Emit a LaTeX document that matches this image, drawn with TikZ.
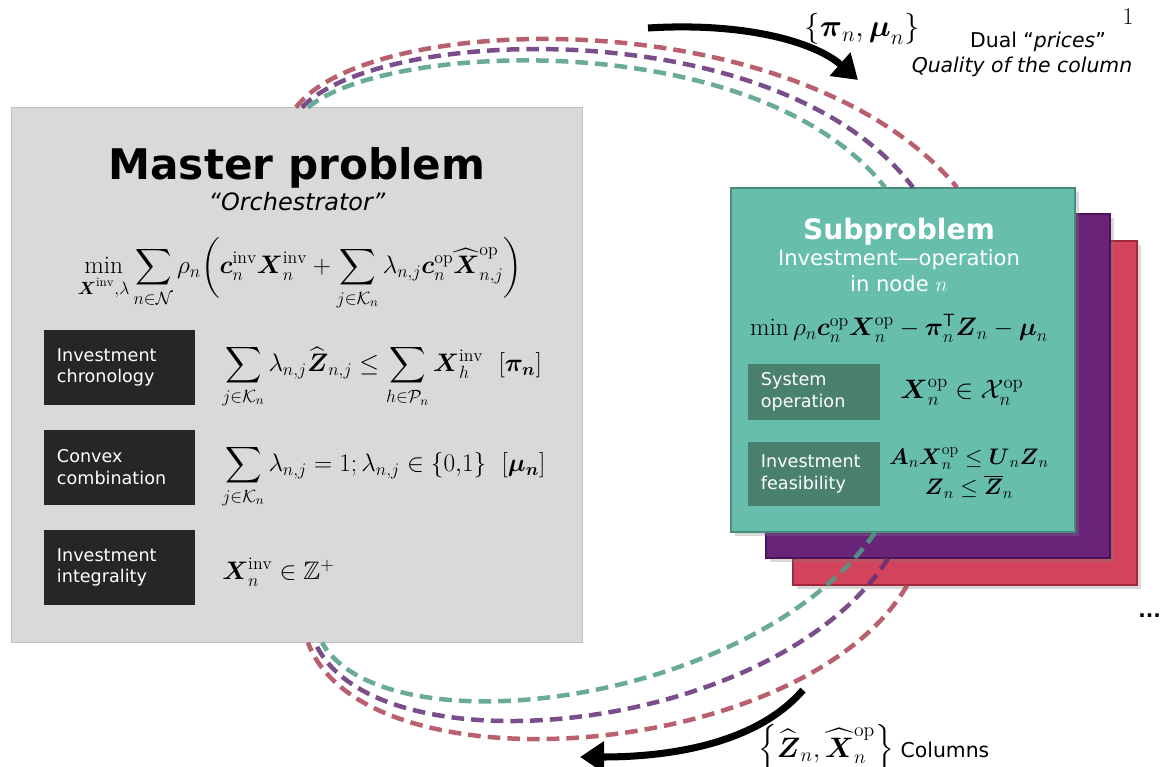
\documentclass[tikz,border=0pt]{standalone}
\usepackage{fix-cm}
\usepackage{amsmath}
\usepackage{amssymb}
\usepackage{fontspec}
\usetikzlibrary{arrows.meta,shadows,calc}

\newfontfamily\verd{DejaVu Sans}

\definecolor{masterfill}{RGB}{217,217,217}
\definecolor{masterdraw}{RGB}{191,191,191}
\definecolor{labelblack}{RGB}{38,38,38}
\definecolor{subteal}{RGB}{103,190,172}
\definecolor{tealdraw}{RGB}{72,140,125}
\definecolor{tealdark}{RGB}{73,128,112}
\definecolor{subpurple}{RGB}{105,36,121}
\definecolor{purpledraw}{RGB}{75,20,90}
\definecolor{subred}{RGB}{211,67,92}
\definecolor{reddraw}{RGB}{160,40,60}
\definecolor{arcred}{RGB}{172,68,84}
\definecolor{arcpurple}{RGB}{99,47,117}
\definecolor{arcgreen}{RGB}{80,155,134}

\begin{document}
\begin{tikzpicture}[x=0.025cm, y=-0.025cm,
  masterbox/.style={draw=masterdraw, fill=masterfill, line width=0.8pt,
    minimum width=14.25cm, minimum height=13.35cm},
  blacklabel/.style={fill=labelblack, text=white, align=left,
    font=\verd\fontsize{12.5}{15.5}\selectfont,
    text width=3.125cm, inner xsep=0.325cm, minimum height=1.875cm},
  subbox/.style={line width=0.8pt, minimum width=8.6cm, minimum height=8.6cm,
    drop shadow={shadow xshift=0.1cm, shadow yshift=-0.1cm, opacity=0.3}},
  sublabel/.style={fill=tealdark, text=white, align=left,
    font=\verd\fontsize{12.5}{15.5}\selectfont,
    text width=2.65cm, inner xsep=0.325cm},
  eq/.style={font=\fontsize{18}{22}\selectfont, inner sep=0pt},
  subeq/.style={font=\fontsize{18}{22}\selectfont, inner sep=0pt},
  sidetext/.style={font=\verd\fontsize{14.5}{17}\selectfont, inner sep=0pt},
  dashedarc/.style={line width=3.2pt, dash pattern=on 9pt off 5pt, opacity=0.85},
  bigarrow/.style={line width=5pt, -{Triangle[length=0.6cm, width=0.75cm]}}
]
  \useasboundingbox (0,0) rectangle (1160,767);

  % the master problem
  \node[masterbox] (master) at (297,375) {};
  \node[font=\verd\bfseries\fontsize{30}{36}\selectfont, anchor=base] (mtitle) at (297,180) {Master problem};
  \node[font=\verd\itshape\fontsize{17}{20}\selectfont, anchor=base] (mrole) at (297,211) {“Orchestrator”};
  \node[eq, anchor=base] (mobj) at (300,274)
    {$\displaystyle \min_{\boldsymbol{X}^{\mathrm{inv}},\lambda} \sum_{n\in\mathcal{N}} \rho_n
      \biggl(\boldsymbol{c}_n^{\mathrm{inv}}\boldsymbol{X}_n^{\mathrm{inv}}
      + \sum_{j\in\mathcal{K}_n} \lambda_{n,j}\boldsymbol{c}_n^{\mathrm{op}}\widehat{\boldsymbol{X}}_{n,j}^{\mathrm{op}}\biggr)$};

  % the constraints of the master
  \node[blacklabel] (chrono) at (119.5,367.5) {Investment\\chronology};
  \node[blacklabel] (convex) at (119.5,467.5) {Convex\\combination};
  \node[blacklabel] (integ) at (119.5,567.5) {Investment\\integrality};
  \node[eq, anchor=base west] (chronoeq) at (222,372)
    {$\displaystyle \sum_{j\in\mathcal{K}_n}\lambda_{n,j}\widehat{\boldsymbol{Z}}_{n,j}
      \le \sum_{h\in\mathcal{P}_n}\boldsymbol{X}_h^{\mathrm{inv}}\ \ [\boldsymbol{\pi_n}]$};
  \node[eq, anchor=base west] (convexeq) at (222,472)
    {$\displaystyle \sum_{j\in\mathcal{K}_n}\lambda_{n,j} = 1; \lambda_{n,j}\in\{0{,}1\}\ \ [\boldsymbol{\mu_n}]$};
  \node[eq, anchor=base west] (integeq) at (222,580)
    {$\boldsymbol{X}_n^{\mathrm{inv}}\in\mathbb{Z}^+$};

  % the stack of subproblems
  \node[subbox, fill=subred, draw=reddraw] (sub3) at (965,413) {};
  \node[subbox, fill=subpurple, draw=purpledraw] (sub2) at (938,386) {};
  \node[subbox, fill=subteal, draw=tealdraw] (sub1) at (903,360) {};
  \node[font=\verd\bfseries\fontsize{20}{24}\selectfont, text=white, anchor=base] (stitle) at (899,240) {Subproblem};
  \node[font=\verd\fontsize{15}{18}\selectfont, text=white, anchor=base] (srole1) at (899,266) {Investment—operation};
  \node[font=\verd\fontsize{15}{18}\selectfont, text=white, anchor=base] (srole2) at (899,292) {in node $n$};
  \node[subeq, anchor=base] (sobj) at (899,336)
    {$\min \rho_n\boldsymbol{c}_n^{\mathrm{op}}\boldsymbol{X}_n^{\mathrm{op}}
      - \boldsymbol{\pi}_n^{\mathsf{T}}\boldsymbol{Z}_n - \boldsymbol{\mu}_n$};
  \node[sublabel, minimum height=1.4cm] (sysop) at (814,392) {System\\operation};
  \node[sublabel, minimum height=1.6cm] (feas) at (814,474) {Investment\\feasibility};
  \node[subeq, font=\fontsize{19}{22}\selectfont] (sysopeq) at (962,392)
    {$\boldsymbol{X}_n^{\mathrm{op}} \in \mathcal{X}_n^{\mathrm{op}}$};
  \node[subeq, font=\fontsize{16}{22}\selectfont, align=center] (feaseq) at (969,473)
    {$\boldsymbol{A}_n\boldsymbol{X}_n^{\mathrm{op}} \le \boldsymbol{U}_n\boldsymbol{Z}_n$\\
     $\boldsymbol{Z}_n \le \overline{\boldsymbol{Z}}_n$};
  \node[font=\verd\bfseries\fontsize{14}{17}\selectfont, anchor=base west, inner sep=0pt] (more) at (1138,617) {...};

  % the dashed loops between master and subproblems
  \draw[dashedarc, arcred] ($(master.north)+(-1,0)$) .. controls (370,10) and (800,0) .. ($(sub1.north)+(54,0)$);
  \draw[dashedarc, arcpurple] ($(master.north)+(5,0)$) .. controls (380,25) and (780,12) .. ($(sub1.north)+(10,0)$);
  \draw[dashedarc, arcgreen] ($(master.north)+(11,0)$) .. controls (390,40) and (760,28) .. ($(sub1.north)+(-18,0)$);
  \draw[dashedarc, arcgreen] ($(sub1.south)+(-28,0)$) .. controls (755,705) and (385,752) .. ($(master.south)+(25,0)$);
  \draw[dashedarc, arcpurple] ($(sub2.south)+(-50,0)$) .. controls (775,735) and (375,775) .. ($(master.south)+(18,0)$);
  \draw[dashedarc, arcred] ($(sub3.south)+(-58,0)$) .. controls (805,760) and (365,795) .. ($(master.south)+(11,0)$);

  % the prices going out and the columns coming back
  \coordinate (dualfrom) at (648,28);
  \coordinate (dualto) at (858,80);
  \coordinate (colfrom) at (803,690);
  \coordinate (colto) at (580,757);
  \draw[bigarrow] (dualfrom) .. controls (745,22) and (815,42) .. (dualto);
  \draw[bigarrow] (colfrom) .. controls (760,740) and (680,757) .. (colto);

  \node[font=\fontsize{22}{26}\selectfont, inner sep=0pt, anchor=base] (duallabel) at (862,37) {$\{\boldsymbol{\pi}_n,\boldsymbol{\mu}_n\}$};
  \node[sidetext, anchor=base] (dualtext1) at (1038,48) {Dual “\textit{prices}”};
  \node[sidetext, anchor=base] (dualtext2) at (1022,73) {\itshape Quality of the column};
  \node[font=\fontsize{20}{24}\selectfont, inner sep=0pt, anchor=base] (collabel) at (826,757)
    {$\Bigl\{\widehat{\boldsymbol{Z}}_n,\widehat{\boldsymbol{X}}_n^{\mathrm{op}}\Bigr\}$};
  \node[sidetext, anchor=base] (coltext) at (945,757) {Columns};
  \node[font=\fontsize{17}{20}\selectfont, anchor=base] (pagenum) at (1128,25) {1};
\end{tikzpicture}
\end{document}
